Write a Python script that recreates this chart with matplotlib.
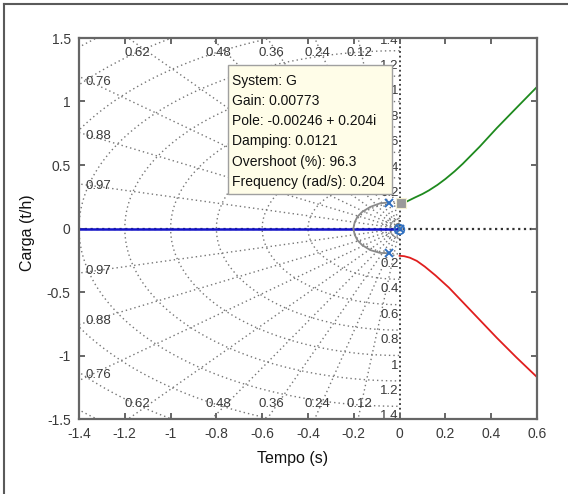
import numpy as np
import matplotlib
matplotlib.use('Agg')
import matplotlib.pyplot as plt
from matplotlib.lines import Line2D
from matplotlib.patches import Rectangle

plt.rcParams['font.family'] = ['Liberation Sans', 'DejaVu Sans']

# ---- data ----
zetas = [0.12, 0.24, 0.36, 0.48, 0.62, 0.76, 0.88, 0.97]
zeta_top = ['0.62', '0.48', '0.36', '0.24', '0.12']
zeta_side = ['0.76', '0.88', '0.97']
wn = [0.2, 0.4, 0.6, 0.8, 1.0, 1.2, 1.4, 1.6, 1.8, 2.0]
wn_labels = ['0.2', '0.4', '0.6', '0.8', '1', '1.2', '1.4']
wn_small = [0.02, 0.04, 0.06, 0.08]

blue_re = [0.0, -1.5]
blue_im = [0.0, 0.0]
green_re = [0.025, 0.068, 0.10, 0.128, 0.165, 0.20, 0.24, 0.276, 0.35, 0.424, 0.513, 0.6]
green_im = [0.207, 0.245, 0.272, 0.30, 0.343, 0.39, 0.45, 0.51, 0.645, 0.79, 0.955, 1.115]
red_re = [0.0, 0.02, 0.045, 0.075, 0.11, 0.157, 0.215, 0.276, 0.35, 0.424, 0.51, 0.6]
red_im = [-0.215, -0.218, -0.23, -0.255, -0.30, -0.37, -0.465, -0.58, -0.72, -0.86, -1.015, -1.17]
gray_re = [-0.045, -0.086, -0.128, -0.164, -0.184, -0.196, -0.202,
           -0.196, -0.184, -0.164, -0.128, -0.086, -0.045]
gray_im = [0.206, 0.198, 0.17, 0.13, 0.093, 0.05, 0.0,
           -0.05, -0.093, -0.13, -0.17, -0.192, -0.195]
pole_re = [-0.045, -0.045, 0.0]
pole_im = [0.203, -0.195, 0.0]
zero_re = [-0.004]
zero_im = [0.0]
tip_re, tip_im = 0.006, 0.2
tip_lines = ['System: G', 'Gain: 0.00773', 'Pole: -0.00246 + 0.204i',
             'Damping: 0.0121', 'Overshoot (%): 96.3', 'Frequency (rad/s): 0.204']

# ---- figure ----
fig = plt.figure(figsize=(5.68, 4.94), dpi=100)
ax = fig.add_axes([79/568, 75/494, 458/568, 381/494])
xmin, xmax, ymin, ymax = -1.4, 0.6, -1.5, 1.5

gc = '#767676'
gs = (0, (1, 2.2))
# damping rays
for z in zetas:
    th = np.arccos(z)
    for s in (1, -1):
        ax.plot([0, -3*np.cos(th)], [0, s*3*np.sin(th)], color=gc, ls=gs, lw=1, zorder=1)
# frequency circles
t = np.linspace(np.pi/2, 3*np.pi/2, 300)
for r in wn + wn_small:
    ax.plot(r*np.cos(t), r*np.sin(t), color=gc, ls=gs, lw=1, zorder=1)
# axes of the s-plane
ax.plot([0, 0], [ymin, ymax], color='#333333', ls=(0, (1, 1.6)), lw=1.3, zorder=1)
ax.plot([xmin, xmax], [0, 0], color='#333333', ls=(0, (1, 1.6)), lw=1.6, zorder=1)

# labels of the grid
lab_c = '#3a3a3a'
for lab in zeta_top:
    th = np.arccos(float(lab))
    x = -1.45/np.tan(th)
    ax.text(x, 1.38, lab, ha='center', va='center', fontsize=9.5, color=lab_c, zorder=2)
    ax.text(x, -1.38, lab, ha='center', va='center', fontsize=9.5, color=lab_c, zorder=2)
for lab in zeta_side:
    th = np.arccos(float(lab))
    y = 1.35*np.tan(th)
    ax.text(-1.37, y, lab, ha='left', va='center', fontsize=9.5, color=lab_c, zorder=2)
    ax.text(-1.37, -y, lab, ha='left', va='center', fontsize=9.5, color=lab_c, zorder=2)
for lab in wn_labels:
    w = float(lab)
    for s in (1, -1):
        ax.text(-0.004, s*(w+0.08), lab, ha='right', va='center', fontsize=9.5,
                color=lab_c, zorder=2, clip_on=True)

# root locus branches
ax.plot(blue_re, blue_im, color='#1414c8', lw=1.8, zorder=3)
ax.plot(gray_re, gray_im, color='#8a8a8a', lw=1.3, zorder=3)
ax.plot(green_re, green_im, color='#1e8a1e', lw=1.3, zorder=3)
ax.plot(red_re, red_im, color='#e01e1e', lw=1.3, zorder=3)
ax.plot(pole_re, pole_im, 'x', color='#3070c0', ms=6, mew=1.4, zorder=4)
ax.plot(zero_re, zero_im, 'o', color='#3070c0', mfc='none', ms=7, mew=1.2, zorder=4)

# data tip
ax.add_patch(Rectangle((-0.749, 0.272), 0.716, 1.015, facecolor='#fffde8',
                       edgecolor='#a0a0a0', lw=1, zorder=5))
for i, line in enumerate(tip_lines):
    ax.text(-0.731, (228.5 - (80.5 + 20.3*i))/127, line, ha='left', va='center',
            fontsize=10, color='#111111', zorder=6)
ax.plot(tip_re, tip_im, 's', color='#9a9a9a', mec='#f4f0d0', ms=7, mew=0.8, zorder=7)

ax.set_xlim(xmin, xmax)
ax.set_ylim(ymin, ymax)
ax.set_xticks(np.arange(-1.4, 0.61, 0.2))
ax.set_xticklabels(['-1.4', '-1.2', '-1', '-0.8', '-0.6', '-0.4', '-0.2', '0', '0.2', '0.4', '0.6'])
ax.set_yticks([-1.5, -1, -0.5, 0, 0.5, 1, 1.5])
ax.set_yticklabels(['-1.5', '-1', '-0.5', '0', '0.5', '1', '1.5'])
ax.tick_params(direction='in', length=4.5, width=1.4, color='#666666', labelcolor='#3a3a3a',
               labelsize=10, top=True, right=True, pad=6)
for sp in ax.spines.values():
    sp.set_color('#666666')
    sp.set_linewidth(1.6)
    sp.set_zorder(8)
ax.set_xlabel('Tempo (s)', fontsize=11.5, color='#111111')
ax.set_ylabel('Carga (t/h)', fontsize=11.5, color='#111111')
ax.xaxis.set_label_coords(0.467, -0.085)
ax.yaxis.set_label_coords(-0.097, 0.49)

# outer frame of the screenshot
fig.add_artist(Line2D([4/568, 4/568], [0, 1 - 4.5/494], transform=fig.transFigure,
                      color='#5a5a5a', lw=1.5))
fig.add_artist(Line2D([4/568, 1], [1 - 4.5/494, 1 - 4.5/494], transform=fig.transFigure,
                      color='#5a5a5a', lw=1.5))

fig.savefig('out.png', dpi=100)
